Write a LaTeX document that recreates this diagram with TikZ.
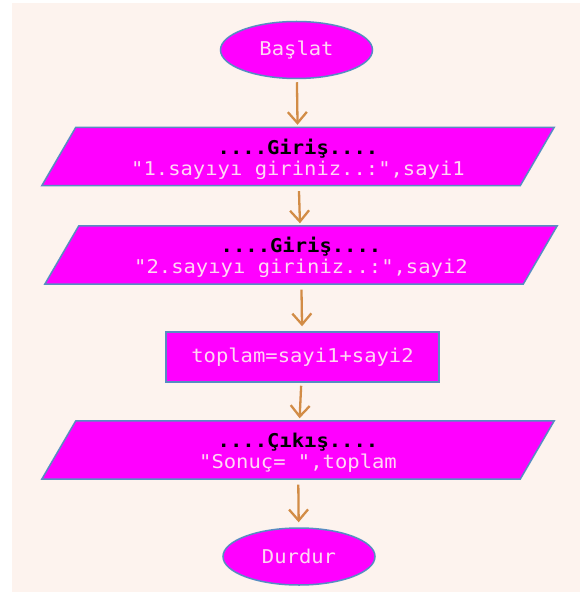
\documentclass[tikz,border=0pt]{standalone}
\usepackage{fontspec}
\setmonofont[FakeStretch=1.08]{DejaVu Sans Mono}
\usetikzlibrary{shapes.geometric,arrows.meta,backgrounds}
\definecolor{paper}{RGB}{253,243,238}
\definecolor{boxfill}{RGB}{255,0,255}
\definecolor{boxline}{RGB}{88,140,195}
\definecolor{boxtext}{RGB}{255,215,244}
\definecolor{flow}{RGB}{210,140,70}
% outline of an input/output box around a named node (text sits a little low)
\newcommand\ioshape[1]{%
  \begin{pgfonlayer}{background}
    \draw[iobox] ([xshift=-17pt,yshift=2.5pt]#1.south west) -- ([xshift=-17pt,yshift=2.5pt]#1.south east)
      -- ([xshift=17pt,yshift=2.5pt]#1.north east) -- ([xshift=17pt,yshift=2.5pt]#1.north west) -- cycle;
  \end{pgfonlayer}}
\newcommand\headline[1]{{\bfseries\color{black}#1}}
\begin{document}
\begin{tikzpicture}[x=1pt,y=-1pt,
  every node/.style={font=\ttfamily\fontsize{19}{21}\selectfont, text=boxtext, align=center},
  term/.style={ellipse, fill=boxfill, draw=boxline, line width=1.5pt,
    minimum width=152pt, minimum height=57pt, inner sep=0pt},
  proc/.style={rectangle, fill=boxfill, draw=boxline, line width=1.5pt,
    minimum width=273pt, minimum height=50pt, inner sep=0pt},
  io/.style={rectangle, minimum width=478pt, minimum height=58pt, inner sep=0pt},
  iobox/.style={fill=boxfill, draw=boxline, line width=1.5pt, line join=miter},
  flowarrow/.style={draw=flow, line width=2.3pt,
    -{Straight Barb[length=11pt,width=19pt]}, shorten <=3pt, shorten >=5pt}]
  \useasboundingbox (0,0) rectangle (585,593);
  \begin{pgfonlayer}{background}
    \fill[paper] (12,3) rectangle (580,592);
  \end{pgfonlayer}

  \node[term] (start) at (296.5,50) {Başlat};
  \node[io] (in1) at (298,159) {\headline{....Giriş....}\\"1.sayıyı giriniz..:",sayi1};
  \ioshape{in1}
  \node[io] (in2) at (301,257.5) {\headline{....Giriş....}\\"2.sayıyı giriniz..:",sayi2};
  \ioshape{in2}
  \node[proc] (sum) at (302.5,357) {toplam=sayi1+sayi2};
  \node[io] (out) at (298,452.5) {\headline{....Çıkış....}\\"Sonuç= ",toplam};
  \ioshape{out}
  \node[term] (stop) at (299,556.5) {Durdur};

  \draw[flowarrow] (start) -- (in1);
  \draw[flowarrow] (in1) -- (in2);
  \draw[flowarrow] (in2) -- (sum);
  \draw[flowarrow] (sum) -- (out);
  \draw[flowarrow] (out) -- (stop);
\end{tikzpicture}
\end{document}
